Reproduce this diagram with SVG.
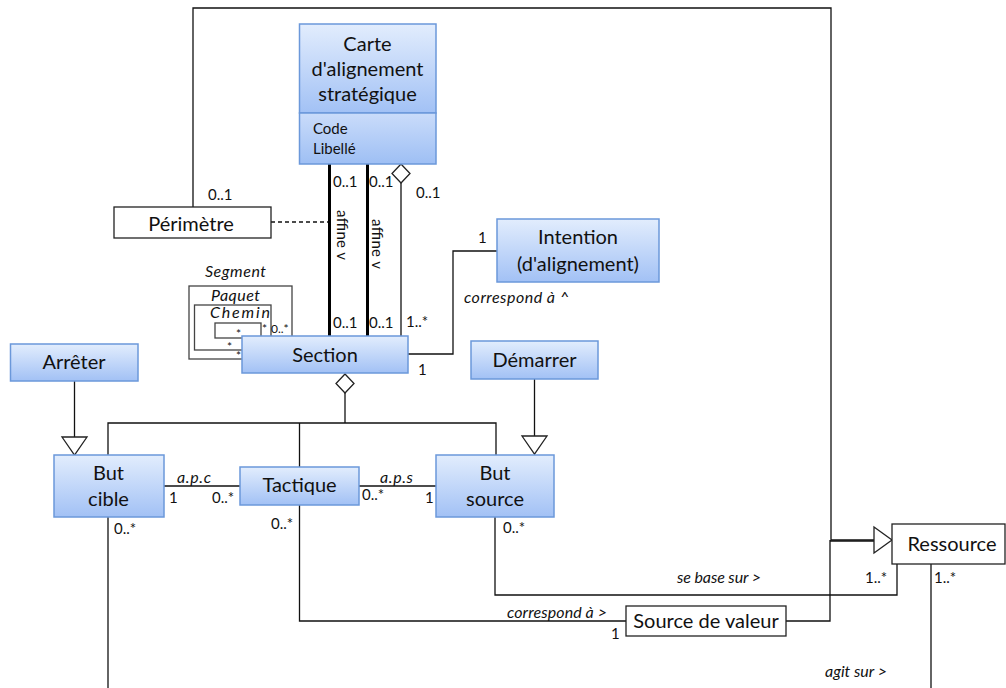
<svg xmlns="http://www.w3.org/2000/svg" width="1006" height="688" viewBox="0 0 1006 688">
<defs>
<linearGradient id="gb" x1="0" y1="0" x2="0" y2="1">
<stop offset="0" stop-color="#e2edfd"/>
<stop offset="1" stop-color="#a2c1f5"/>
</linearGradient>
<linearGradient id="gb2" x1="0" y1="0" x2="0" y2="1">
<stop offset="0" stop-color="#cadcfa"/>
<stop offset="1" stop-color="#9ebff4"/>
</linearGradient>
</defs>
<style>
.cls{fill:url(#gb);stroke:#6b98da;stroke-width:1.5}
.plain{fill:#fff;stroke:#222;stroke-width:1.3}
.t{font-family:Lato,"Liberation Sans",sans-serif;font-size:20px;fill:#111;text-anchor:middle}
.s{font-family:Lato,"Liberation Sans",sans-serif;font-size:15px;fill:#111}
.i{font-family:Lato,"Liberation Sans",sans-serif;font-size:16px;font-style:italic;fill:#111}
.st{font-family:Lato,"Liberation Sans",sans-serif;font-size:12px;fill:#111}
.ln{fill:none;stroke:#111;stroke-width:1.3}
.thick{fill:none;stroke:#000;stroke-width:3}
.gr{fill:none;stroke:#444;stroke-width:1.3}
.hol{fill:#fff;stroke:#222;stroke-width:1.3}
</style>

<g id="connectors">
<polyline class="ln" points="193,207 193,8 831,8 831,540 874,540"/>
<polyline class="ln" points="786,621 830,621 830,540"/>
<line class="ln" x1="830" y1="541" x2="874" y2="541"/>
<polygon class="hol" points="874,527 874,553 892,540"/>
<line class="ln" x1="271" y1="222" x2="329" y2="222" stroke-dasharray="4,3"/>
<line class="thick" x1="329.5" y1="164" x2="329.5" y2="336"/>
<line class="thick" x1="367.5" y1="164" x2="367.5" y2="336"/>
<line class="ln" x1="401" y1="183" x2="401" y2="336"/>
<polygon class="hol" points="401,164 410,173.5 401,183 392,173.5"/>
<polyline class="ln" points="497,251 453,251 453,354 408,354"/>
<rect class="gr" x="189" y="286" width="103" height="73"/>
<rect class="gr" x="194.5" y="305" width="76.5" height="45"/>
<rect class="gr" x="215" y="323" width="46" height="15"/>
<polygon class="hol" points="345,374 354,383.5 345,393 336,383.5"/>
<line class="ln" x1="345" y1="393" x2="345" y2="423"/>
<polyline class="ln" points="108,455 108,423 496,423 496,455"/>
<line class="ln" x1="299.5" y1="423" x2="299.5" y2="467"/>
<line class="ln" x1="74.5" y1="381" x2="74.5" y2="437"/>
<polygon class="hol" points="62,437 87,437 74.5,455"/>
<line class="ln" x1="534.5" y1="379" x2="534.5" y2="436"/>
<polygon class="hol" points="522,436 547,436 534.5,454"/>
<line class="ln" x1="164" y1="486" x2="240" y2="486"/>
<line class="ln" x1="359" y1="486" x2="436" y2="486"/>
<line class="ln" x1="108" y1="517" x2="108" y2="688"/>
<polyline class="ln" points="299.5,505 299.5,621 626,621"/>
<polyline class="ln" points="495,517 495,595 897,595 897,564"/>
<line class="ln" x1="931" y1="564" x2="931" y2="688"/>
</g>

<g id="labels">
<text class="s" x="208" y="200">0..1</text>
<text class="s" x="333" y="187">0..1</text>
<text class="s" x="369" y="187">0..1</text>
<text class="s" x="416" y="198">0..1</text>
<text class="s" x="333" y="328">0..1</text>
<text class="s" x="369" y="328">0..1</text>
<text class="s" x="406" y="327">1..*</text>
<text class="s" transform="translate(337,210) rotate(90)" textLength="50">affine v</text>
<text class="s" transform="translate(372,219) rotate(90)" textLength="50">affine v</text>
<text class="s" x="478" y="243">1</text>
<text class="s" x="418" y="375">1</text>
<text class="i" x="464" y="303" textLength="105">correspond à ^</text>
<text class="i" x="205" y="277" textLength="61">Segment</text>
<text class="i" x="211" y="301" textLength="49">Paquet</text>
<text class="i" x="210" y="318" textLength="60">Chemin</text>
<text class="st" x="236" y="338">*</text>
<text class="st" x="262" y="333">*</text>
<text class="st" x="271" y="333">0..*</text>
<text class="st" x="227" y="351">*</text>
<text class="st" x="236" y="360">*</text>
<text class="i" x="177" y="483" textLength="34">a.p.c</text>
<text class="s" x="169" y="503">1</text>
<text class="s" x="212" y="503">0..*</text>
<text class="i" x="380" y="483" textLength="33">a.p.s</text>
<text class="s" x="362" y="500">0..*</text>
<text class="s" x="425" y="503">1</text>
<text class="s" x="114" y="534">0..*</text>
<text class="s" x="271" y="529">0..*</text>
<text class="s" x="503" y="533">0..*</text>
<text class="i" x="677" y="583" textLength="84">se base sur &gt;</text>
<text class="s" x="865" y="583">1..*</text>
<text class="s" x="934" y="583">1..*</text>
<text class="i" x="507" y="618" textLength="100">correspond à &gt;</text>
<text class="s" x="611" y="639">1</text>
<text class="i" x="825" y="677" textLength="62">agit sur &gt;</text>
</g>

<g id="carte">
<rect x="299.5" y="24" width="136.5" height="89" fill="url(#gb)" stroke="#6b98da" stroke-width="1.5"/>
<rect x="299.5" y="113" width="136.5" height="51" fill="url(#gb2)" stroke="#6b98da" stroke-width="1.5"/>
<text class="t" x="367.5" y="51">Carte</text>
<text class="t" x="367.5" y="76">d'alignement</text>
<text class="t" x="367.5" y="101">stratégique</text>
<text class="s" x="313" y="134">Code</text>
<text class="s" x="313" y="154">Libellé</text>
</g>

<g id="perimetre">
<rect class="plain" x="114" y="207" width="157" height="31"/>
<text class="t" x="191" y="231">Périmètre</text>
</g>

<g id="intention">
<rect class="cls" x="497" y="219" width="162" height="63"/>
<text class="t" x="578" y="244">Intention</text>
<text class="t" x="578" y="271">(d'alignement)</text>
</g>

<g id="section">
<rect class="cls" x="242" y="336" width="166" height="37"/>
<text class="t" x="325" y="362">Section</text>
</g>

<g id="arreter">
<rect class="cls" x="10.5" y="344" width="127.5" height="37"/>
<text class="t" x="74" y="369">Arrêter</text>
</g>

<g id="demarrer">
<rect class="cls" x="471" y="341" width="127" height="38"/>
<text class="t" x="534.5" y="367">Démarrer</text>
</g>

<g id="butcible">
<rect class="cls" x="54" y="455" width="110" height="62"/>
<text class="t" x="108.5" y="480">But</text>
<text class="t" x="108.5" y="506">cible</text>
</g>

<g id="tactique">
<rect class="cls" x="240" y="467" width="119" height="38"/>
<text class="t" x="299.5" y="492">Tactique</text>
</g>

<g id="butsource">
<rect class="cls" x="436" y="455" width="118" height="62"/>
<text class="t" x="495" y="480">But</text>
<text class="t" x="495" y="506">source</text>
</g>

<g id="ressource">
<rect class="plain" x="892" y="524" width="113" height="40"/>
<text class="t" x="952" y="551">Ressource</text>
</g>

<g id="sourcevaleur">
<rect class="plain" x="626" y="606" width="160" height="30"/>
<text class="t" x="706" y="628">Source de valeur</text>
</g>
</svg>
